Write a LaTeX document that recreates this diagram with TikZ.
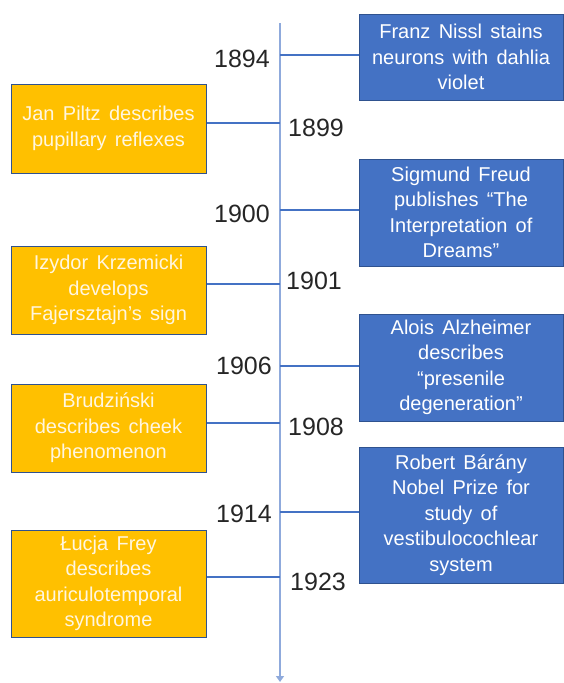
\documentclass[tikz,border=0pt]{standalone}
\usepackage{fontspec}
\setmainfont{Liberation Sans}
\newfontfamily\boxfont[WordSpace=1.5]{Liberation Sans}
\usetikzlibrary{arrows.meta}

\definecolor{boxblue}{HTML}{4472C4}
\definecolor{edgeblue}{HTML}{2F528F}
\definecolor{boxgold}{HTML}{FFC000}
\definecolor{axisblue}{HTML}{8FAADC}
\definecolor{cream}{HTML}{FFF6E0}

\tikzset{
  event/.style={rectangle, draw=edgeblue, line width=1pt, align=center,
    inner sep=0pt, font=\boxfont\fontsize{20}{25.5}\selectfont},
  rightbox/.style={event, fill=boxblue, text=white, minimum width=204pt},
  leftbox/.style={event, fill=boxgold, text=cream, minimum width=195pt},
  year/.style={font=\fontsize{25}{28}\selectfont, text=black!85, inner sep=0pt},
  link/.style={boxblue, line width=1.3pt},
  axisline/.style={axisblue, line width=1.6pt}
}

\begin{document}
\begin{tikzpicture}[x=1pt,y=-1pt]
  \useasboundingbox (0,0) rectangle (564,683);
  % time axis
  \coordinate (top) at (280,23);
  \coordinate (bottom) at (280,682);
  \draw[axisline,-{Triangle[width=8pt,length=6pt]}] (top) -- (bottom);

  % right side events
  \node[rightbox, minimum height=86pt]  (nissl)     at (461,57)  {Franz Nissl stains\\neurons with dahlia\\violet};
  \node[rightbox, minimum height=107pt] (freud)     at (461,212.5) {Sigmund Freud\\publishes “The\\Interpretation of\\Dreams”};
  \node[rightbox, minimum height=107pt] (alzheimer) at (461,367.5) {Alois Alzheimer\\describes\\“presenile\\degeneration”};
  \node[rightbox, minimum height=136pt] (barany)    at (461,515) {Robert Bárány\\Nobel Prize for\\study of\\vestibulocochlear\\system};

  % left side events
  \node[leftbox, minimum height=89pt]  (piltz)      at (108.5,128.5) {Jan Piltz describes\\pupillary reflexes};
  \node[leftbox, minimum height=88pt]  (krzemicki)  at (108.5,290) {Izydor Krzemicki\\develops\\Fajersztajn’s sign};
  \node[leftbox, minimum height=88pt]  (brudzinski) at (108.5,428) {Brudziński\\describes cheek\\phenomenon};
  \node[leftbox, minimum height=107pt] (frey)       at (108.5,583.5) {Łucja Frey\\describes\\auriculotemporal\\syndrome};

  % points on the axis
  \coordinate (t1894) at (280,55);
  \coordinate (t1899) at (280,123);
  \coordinate (t1900) at (280,210);
  \coordinate (t1901) at (280,284);
  \coordinate (t1906) at (280,366);
  \coordinate (t1908) at (280,423);
  \coordinate (t1914) at (280,512);
  \coordinate (t1923) at (280,577);

  \draw[link] (t1894) -- (t1894 -| nissl.west);
  \draw[link] (t1900) -- (t1900 -| freud.west);
  \draw[link] (t1906) -- (t1906 -| alzheimer.west);
  \draw[link] (t1914) -- (t1914 -| barany.west);
  \draw[link] (t1899) -- (t1899 -| piltz.east);
  \draw[link] (t1901) -- (t1901 -| krzemicki.east);
  \draw[link] (t1908) -- (t1908 -| brudzinski.east);
  \draw[link] (t1923) -- (t1923 -| frey.east);

  % years
  \node[year, anchor=east] (y1894) at (270,59)  {1894};
  \node[year, anchor=east] (y1900) at (270,214) {1900};
  \node[year, anchor=east] (y1906) at (272,366) {1906};
  \node[year, anchor=east] (y1914) at (272,514) {1914};
  \node[year, anchor=west] (y1899) at (288,128) {1899};
  \node[year, anchor=west] (y1901) at (286,281) {1901};
  \node[year, anchor=west] (y1908) at (288,427) {1908};
  \node[year, anchor=west] (y1923) at (290,582) {1923};
\end{tikzpicture}
\end{document}
